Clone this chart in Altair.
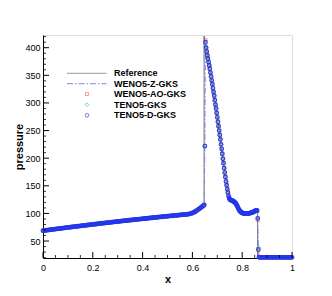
import altair as alt
import pandas as pd

# ---------------- data ----------------
x_left = [0.000, 0.005, 0.010, 0.015, 0.020, 0.025, 0.030, 0.035, 0.040, 0.045,
          0.050, 0.055, 0.060, 0.065, 0.070, 0.075, 0.080, 0.085, 0.090, 0.095,
          0.100, 0.105, 0.110, 0.115, 0.120, 0.125, 0.130, 0.135, 0.140, 0.145,
          0.150, 0.155, 0.160, 0.165, 0.170, 0.175, 0.180, 0.185, 0.190, 0.195,
          0.200, 0.205, 0.210, 0.215, 0.220, 0.225, 0.230, 0.235, 0.240, 0.245,
          0.250, 0.255, 0.260, 0.265, 0.270, 0.275, 0.280, 0.285, 0.290, 0.295,
          0.300, 0.305, 0.310, 0.315, 0.320, 0.325, 0.330, 0.335, 0.340, 0.345,
          0.350, 0.355, 0.360, 0.365, 0.370, 0.375, 0.380, 0.385, 0.390, 0.395,
          0.400, 0.405, 0.410, 0.415, 0.420, 0.425, 0.430, 0.435, 0.440, 0.445,
          0.450, 0.455, 0.460, 0.465, 0.470, 0.475, 0.480, 0.485, 0.490, 0.495,
          0.500, 0.505, 0.510, 0.515, 0.520, 0.525, 0.530, 0.535, 0.540, 0.545,
          0.550, 0.555, 0.560, 0.565, 0.570, 0.575, 0.580, 0.585, 0.590, 0.595,
          0.600, 0.605, 0.610, 0.615, 0.620, 0.625, 0.630, 0.635, 0.640, 0.645]
p_left = [68.7, 69.0, 69.3, 69.6, 69.9, 70.2, 70.5, 70.8, 71.1, 71.4,
          71.7, 72.0, 72.2, 72.5, 72.8, 73.1, 73.4, 73.7, 74.0, 74.3,
          74.6, 74.8, 75.1, 75.4, 75.7, 76.0, 76.2, 76.5, 76.8, 77.1,
          77.4, 77.6, 77.9, 78.2, 78.5, 78.7, 79.0, 79.3, 79.6, 79.8,
          80.1, 80.4, 80.6, 80.9, 81.2, 81.4, 81.7, 82.0, 82.2, 82.5,
          82.8, 83.0, 83.3, 83.5, 83.8, 84.1, 84.3, 84.6, 84.8, 85.1,
          85.4, 85.6, 85.9, 86.1, 86.4, 86.6, 86.9, 87.1, 87.4, 87.6,
          87.9, 88.1, 88.4, 88.6, 88.8, 89.1, 89.3, 89.6, 89.8, 90.1,
          90.3, 90.5, 90.8, 91.0, 91.3, 91.5, 91.7, 92.0, 92.2, 92.4,
          92.7, 92.9, 93.1, 93.4, 93.6, 93.8, 94.0, 94.3, 94.5, 94.7,
          95.0, 95.2, 95.4, 95.6, 95.8, 96.1, 96.3, 96.5, 96.7, 96.9,
          97.2, 97.4, 97.6, 97.8, 98.0, 98.2, 98.5, 98.8, 99.3, 100.0,
          100.8, 101.8, 103.0, 104.4, 106.0, 107.6, 109.2, 110.8, 112.5, 114.3]

x_mid = [0.6475, 0.6500, 0.6525, 0.6550, 0.6575, 0.6600, 0.6625, 0.6650, 0.6675, 0.6700,
         0.6725, 0.6750, 0.6775, 0.6800, 0.6825, 0.6850, 0.6875, 0.6900, 0.6925, 0.6950,
         0.6975, 0.7000, 0.7025, 0.7050, 0.7075, 0.7100, 0.7125, 0.7150, 0.7175, 0.7200,
         0.7225, 0.7250, 0.7275, 0.7300, 0.7325, 0.7350, 0.7375, 0.7400, 0.7425, 0.7450,
         0.7475, 0.7500, 0.7525, 0.7550, 0.7575, 0.7600, 0.7625, 0.7650, 0.7675, 0.7700,
         0.7725, 0.7750, 0.7775, 0.7800, 0.7825, 0.7850, 0.7875, 0.7900, 0.7925, 0.7950,
         0.7975, 0.8000, 0.8025, 0.8050, 0.8075, 0.8100, 0.8125, 0.8150, 0.8175, 0.8200,
         0.8225, 0.8250, 0.8275, 0.8300, 0.8325, 0.8350, 0.8375, 0.8400, 0.8425, 0.8450,
         0.8475, 0.8500, 0.8525, 0.8550, 0.8575, 0.8600, 0.8625, 0.8650, 0.8675]
p_mid = [115.5, 222.0, 411.0, 400.0, 393.0, 386.0, 380.0, 374.0, 368.0, 362.0,
         355.0, 348.0, 341.0, 334.0, 327.0, 320.0, 313.0, 305.0, 297.0, 290.0,
         282.0, 274.0, 266.0, 258.0, 250.0, 242.0, 234.0, 225.0, 217.0, 208.0,
         199.0, 191.0, 182.0, 174.0, 166.0, 158.0, 151.0, 144.0, 138.0, 132.0,
         128.0, 125.5, 124.5, 124.0, 123.5, 123.0, 122.5, 122.0, 121.0, 120.0,
         119.0, 117.5, 115.5, 113.5, 111.0, 108.5, 106.5, 105.0, 103.5, 102.5,
         101.7, 101.0, 100.5, 100.2, 100.0, 99.8, 99.7, 99.7, 99.7, 99.8,
         99.9, 100.0, 100.2, 100.4, 100.7, 101.0, 101.4, 101.8, 102.3, 102.8,
         103.4, 104.0, 104.6, 105.2, 105.6, 105.0, 90.0, 35.0, 21.0]

x_right = [0.870, 0.875, 0.880, 0.885, 0.890, 0.895, 0.900, 0.905, 0.910, 0.915,
           0.920, 0.925, 0.930, 0.935, 0.940, 0.945, 0.950, 0.955, 0.960, 0.965,
           0.970, 0.975, 0.980, 0.985, 0.990, 0.995, 1.000]
p_right = [20.5] * len(x_right)

# per-scheme differences at the discontinuities
ao_points = {0.6525: 414.0, 0.8625: 88.0, 0.8650: 33.0}
teno_points = {0.6525: 405.0, 0.8625: 92.0, 0.8650: 38.0}
tenod_points = {0.6525: 410.0, 0.8625: 91.0, 0.8650: 35.0}

# reference solution
x_ref = [0.0, 0.1, 0.2, 0.3, 0.4, 0.5, 0.58, 0.60, 0.62, 0.64, 0.647, 0.647,
         0.66, 0.68, 0.70, 0.72, 0.74, 0.75, 0.76, 0.77, 0.78, 0.79, 0.80,
         0.82, 0.84, 0.86, 0.862, 0.862, 1.0]
p_ref = [68.7, 74.6, 80.1, 85.4, 90.3, 95.0, 98.5, 100.8, 106.0, 112.5, 115.5, 421.0,
         388.0, 334.0, 274.0, 208.0, 144.0, 126.0, 123.0, 120.0, 113.5, 105.0, 101.0,
         99.8, 101.8, 105.2, 105.5, 20.5, 20.5]

series_names = ["Reference", "WENO5-Z-GKS", "WENO5-AO-GKS", "TENO5-GKS", "TENO5-D-GKS"]

x_major = [0.0, 0.2, 0.4, 0.6, 0.8, 1.0]
x_minor = [0.05, 0.1, 0.15, 0.25, 0.3, 0.35, 0.45, 0.5, 0.55, 0.65, 0.7, 0.75, 0.85, 0.9, 0.95]
y_major = [50, 100, 150, 200, 250, 300, 350, 400]
y_minor = [20, 30, 40, 60, 70, 80, 90, 110, 120, 130, 140, 160, 170, 180, 190,
           210, 220, 230, 240, 260, 270, 280, 290, 310, 320, 330, 340, 360, 370,
           380, 390, 410, 420]

# ---------------- build ----------------
x_all = x_left + x_mid + x_right
p_all = p_left + p_mid + p_right


def scheme_df(over):
    return pd.DataFrame({"x": x_all, "p": [over.get(x, p) for x, p in zip(x_all, p_all)]})


W, H = 249, 223
FONT = "Liberation Sans"
BLUE = "#2236f2"

xs = alt.Scale(domain=[0, 1], nice=False, zero=False)
ys = alt.Scale(domain=[19.3, 423], nice=False, zero=False)
xaxis = alt.Axis(values=x_major, format="~g", ticks=False, grid=False, domainColor="black",
                 domainWidth=1, labelFont=FONT, labelFontSize=9, labelColor="black",
                 labelPadding=5, labelFlush=False, title="x", titleFont=FONT,
                 titleFontSize=11, titleFontWeight="bold", titleColor="black", titlePadding=1)
yaxis = alt.Axis(values=y_major, ticks=False, grid=False, domainColor="black",
                 domainWidth=1, labelFont=FONT, labelFontSize=9, labelColor="black",
                 labelPadding=3, labelFlush=False, title="pressure", titleFont=FONT,
                 titleFontSize=11, titleFontWeight="bold", titleColor="black", titlePadding=0)


def X(f):
    return alt.X(f, type="quantitative", scale=xs, axis=xaxis)


def Y(f):
    return alt.Y(f, type="quantitative", scale=ys, axis=yaxis)


ref_df = pd.DataFrame({"x": x_ref, "p": p_ref, "i": list(range(len(x_ref)))})
ref_line = alt.Chart(ref_df).mark_line(color="#6e6e6e", strokeWidth=1).encode(
    x=X("x"), y=Y("p"), order=alt.Order("i:Q"))

wz_df = scheme_df({})
wz_line = alt.Chart(wz_df).mark_line(color="#8080ff", strokeWidth=1,
                                     strokeDash=[6, 2, 1.5, 2]).encode(x=X("x"), y=Y("p"))

ao_pts = alt.Chart(scheme_df(ao_points)).mark_point(
    shape="square", size=10, color="#ff4a4a", strokeWidth=0.8, filled=False).encode(x=X("x"), y=Y("p"))
teno_pts = alt.Chart(scheme_df(teno_points)).mark_point(
    shape="diamond", size=14, color="#22c822", strokeWidth=0.9, filled=False).encode(x=X("x"), y=Y("p"))
tenod_pts = alt.Chart(scheme_df(tenod_points)).mark_point(
    shape="circle", size=13, color=BLUE, strokeWidth=1.2, opacity=0.9, filled=False).encode(x=X("x"), y=Y("p"))

# inward ticks
xmaj = alt.Chart(pd.DataFrame({"v": x_major})).mark_rule(color="black", strokeWidth=1).encode(
    x=X("v"), y=alt.value(H), y2=alt.value(H - 6))
xmin = alt.Chart(pd.DataFrame({"v": x_minor})).mark_rule(color="black", strokeWidth=0.8).encode(
    x=X("v"), y=alt.value(H), y2=alt.value(H - 3))
ymaj = alt.Chart(pd.DataFrame({"v": y_major})).mark_rule(color="black", strokeWidth=1).encode(
    y=Y("v"), x=alt.value(0), x2=alt.value(6))
ymin = alt.Chart(pd.DataFrame({"v": y_minor})).mark_rule(color="black", strokeWidth=0.8).encode(
    y=Y("v"), x=alt.value(0), x2=alt.value(3))

# legend (drawn inside the plot)
rows = [38.3, 48.7, 59.0, 69.7, 80.3]
leg = []
one = lambda name: alt.Chart(pd.DataFrame({"label": [name]}))
leg.append(one(series_names[0]).mark_rule(color="#9a9a9a", strokeWidth=1).encode(
    x=alt.value(24), x2=alt.value(63.5), y=alt.value(rows[0])))
leg.append(one(series_names[1]).mark_rule(color="#8080ff", strokeWidth=1, strokeDash=[6, 2, 1.5, 2]).encode(
    x=alt.value(24), x2=alt.value(63.5), y=alt.value(rows[1])))
leg.append(one(series_names[2]).mark_point(shape="square", size=9, color="#ff4a4a", strokeWidth=0.8).encode(
    x=alt.value(44), y=alt.value(rows[2])))
leg.append(one(series_names[3]).mark_point(shape="diamond", size=13, color="#22c822", strokeWidth=0.8).encode(
    x=alt.value(44), y=alt.value(rows[3])))
leg.append(one(series_names[4]).mark_point(shape="circle", size=13, color=BLUE, strokeWidth=0.9).encode(
    x=alt.value(44), y=alt.value(rows[4])))
for name, r in zip(series_names, rows):
    leg.append(one(name).mark_text(align="left", baseline="middle", font=FONT, fontSize=9,
                                   fontWeight="bold", color="black").encode(
        x=alt.value(71), y=alt.value(r), text="label:N"))

chart = alt.layer(ref_line, wz_line, ao_pts, teno_pts, tenod_pts,
                  xmaj, xmin, ymaj, ymin, *leg).properties(
    width=W, height=H,
    autosize=alt.AutoSizeParams(type="none"),
    padding={"left": 35, "top": 27, "right": 32, "bottom": 38},
).configure_view(stroke=None).configure(background="white")

chart.save("out.html", embed_options={"renderer": "svg", "actions": False})
